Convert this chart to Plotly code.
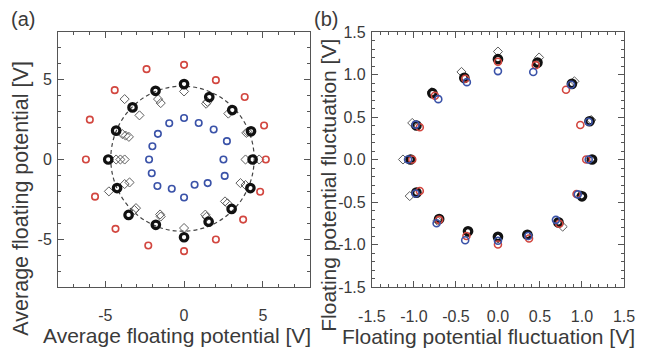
import plotly.graph_objects as go

# ---------------- Panel (a): average floating potential [V] ----------------
a_red_x = [0, 2.02, 3.85, 5.08, 5.19, 4.83, 3.75, 2.02, 0, -2.27, -4.35, -5.65, -6.23, -5.98, -4.40, -2.38]
a_red_y = [5.94, 4.98, 3.92, 2.13, 0, -2.02, -3.77, -5.02, -5.75, -5.40, -4.35, -2.33, 0, 2.50, 4.35, 5.67]

a_black_x = [0, 1.60, 3.06, 4.25, 4.35, 4.21, 3.02, 1.56, 0, -1.79, -3.52, -4.25, -4.81, -4.31, -3.27, -1.81]
a_black_y = [4.73, 3.92, 3.10, 1.77, 0, -1.79, -3.10, -3.90, -4.88, -4.10, -3.48, -1.79, 0, 1.81, 3.27, 4.31]

a_gray_x = [0, 1.40, 1.48, 2.81, 3.95, 4.05, 3.90, 4.77, 3.58, 3.90, 2.60, 2.75, 1.35, 1.42, 0,
            -1.48, -1.52, -3.15, -3.05, -3.77, -3.46, -4.77, -4.31, -4.04, -3.77, -3.92, -3.71, -3.50,
            -3.77, -2.83, -1.65, -1.48]
a_gray_y = [4.27, 3.50, 3.62, 2.88, 1.67, 1.72, 0, 0, -1.48, -1.60, -2.63, -2.75, -3.46, -3.60, -4.30,
            -3.58, -3.45, -3.17, -3.05, -1.54, -1.44, -2.00, 0, 0, 0, 1.60, 1.50, 1.42,
            3.79, 2.77, 3.79, 3.54]

a_blue_x = [0, 0.93, 1.88, 2.72, 2.50, 2.58, 1.50, 0.67, 0, -0.78, -1.69, -2.05, -2.22, -2.01, -1.66, -0.94]
a_blue_y = [2.60, 2.29, 1.88, 1.15, 0, -1.03, -1.48, -1.58, -2.38, -1.84, -1.66, -0.86, 0, 0.83, 1.61, 2.27]

# dashed reference circle (centre and radius)
circle_cx, circle_cy, circle_r = -0.1, 0.05, 4.55

a_ticks = [-5, 0, 5]
a_ticktext = ["-5", "0", "5"]

# ---------------- Panel (b): floating potential fluctuation [V] ----------------
b_blue_x = [0, -0.37, -0.71, -0.98, -1.07, -0.98, -0.73, -0.39, 0, 0.36, 0.69, 0.95, 1.08, 1.08, 0.87, 0.42]
b_blue_y = [1.04, 0.91, 0.71, 0.41, 0, -0.40, -0.75, -0.95, -0.955, -0.90, -0.71, -0.41, 0, 0.445, 0.88, 1.03]

b_red_x = [0, -0.39, -0.75, -0.93, -1.02, -0.93, -0.70, -0.375, 0, 0.37, 0.73, 0.935, 1.05, 0.98, 0.81, 0.45]
b_red_y = [1.15, 0.95, 0.75, 0.38, 0, -0.37, -0.71, -0.90, -1.00, -0.93, -0.755, -0.405, 0, 0.406, 0.82, 1.11]

b_black_x = [0, -0.40, -0.78, -0.97, -1.04, -0.97, -0.70, -0.356, 0, 0.35, 0.72, 1.00, 1.12, 1.09, 0.88, 0.47]
b_black_y = [1.18, 0.96, 0.78, 0.40, 0, -0.39, -0.70, -0.845, -0.91, -0.885, -0.74, -0.433, 0, 0.45, 0.89, 1.14]

b_gray_x = [0, -0.434, -0.79, -1.02, -1.13, -1.05, -0.72, -0.36, 0, 0.36, 0.77, 0.99, 1.10, 1.11, 0.91, 0.49]
b_gray_y = [1.27, 1.03, 0.79, 0.43, 0, -0.43, -0.72, -0.86, -0.93, -0.89, -0.79, -0.42, 0, 0.465, 0.92, 1.20]

b_ticks = [-1.5, -1.0, -0.5, 0.0, 0.5, 1.0, 1.5]
b_ticktext = ["-1.5", "-1.0", "-0.5", "0.0", "0.5", "1.0", "1.5"]

RED = "#d2463f"
BLUE = "#3a52a8"
BLACK = "#111111"
GRAY = "#5e5e5e"
TEXT = "#3a3a3a"
AXIS = "#555555"
FONT = "Liberation Sans, Arial, sans-serif"

fig = go.Figure()


def add_series(x, y, symbol, color, size, lw, xa, ya):
    fig.add_trace(go.Scatter(
        x=x, y=y, mode="markers", xaxis=xa, yaxis=ya, showlegend=False,
        marker=dict(symbol=symbol, size=size, color=color, line=dict(color=color, width=lw)),
    ))


# panel a
add_series(a_gray_x, a_gray_y, "diamond-open", GRAY, 7, 1, "x", "y")
add_series(a_black_x, a_black_y, "circle-open", BLACK, 7.5, 3.2, "x", "y")
add_series(a_red_x, a_red_y, "circle-open", RED, 6.5, 1.6, "x", "y")
add_series(a_blue_x, a_blue_y, "circle-open", BLUE, 6.5, 1.6, "x", "y")

# panel b
add_series(b_gray_x, b_gray_y, "diamond-open", GRAY, 7, 1, "x2", "y2")
add_series(b_black_x, b_black_y, "circle-open", BLACK, 7.5, 3.2, "x2", "y2")
add_series(b_red_x, b_red_y, "circle-open", RED, 7, 1.6, "x2", "y2")
add_series(b_blue_x, b_blue_y, "circle-open", BLUE, 7, 1.6, "x2", "y2")

fig.add_shape(type="circle", xref="x", yref="y",
              x0=circle_cx - circle_r, x1=circle_cx + circle_r,
              y0=circle_cy - circle_r, y1=circle_cy + circle_r,
              line=dict(color="#444444", width=1.2, dash="4px,3px"), layer="below")


def axis_common(tickvals, ticktext, rng, minor_dt, domain=None, standoff=0):
    d = dict(
        range=rng, tickmode="array", tickvals=tickvals, ticktext=ticktext,
        ticks="inside", ticklen=6, tickwidth=1, tickcolor=AXIS,
        showline=True, linecolor=AXIS, linewidth=1, mirror="allticks",
        showgrid=False, zeroline=False,
        tickfont=dict(family=FONT, size=16, color=TEXT),
        minor=dict(tickmode="linear", tick0=0, dtick=minor_dt, ticks="inside",
                   ticklen=3, tickcolor=AXIS, showgrid=False),
        ticklabelstandoff=standoff,
    )
    if domain is not None:
        d["domain"] = domain
    return d


# page body has an 8px margin: figure is 639x350, so the plot boxes land at
# x 58-315 / 378-635 and y 32-287 in the 647x358 window
fig.update_layout(
    width=639, height=350,
    margin=dict(l=50, r=12, t=24, b=71),
    paper_bgcolor="white", plot_bgcolor="white",
    font=dict(family=FONT, color=TEXT),
    xaxis=axis_common(a_ticks, a_ticktext, [-8, 8], 1, [0, 0.4454], 14),
    yaxis=axis_common(a_ticks, a_ticktext, [-8, 8], 1, None, 2),
    xaxis2=dict(axis_common(b_ticks, b_ticktext, [-1.5, 1.5], 0.1, [0.5546, 1], 15), anchor="y2"),
    yaxis2=dict(axis_common(b_ticks, b_ticktext, [-1.5, 1.5], 0.1, None, 2), anchor="x2"),
)

annots = [
    dict(text="Average floating potential [V]", x=0.2097, y=-0.19, size=21, angle=0),
    dict(text="Average floating potential [V]", x=-0.066, y=0.349, size=21.5, angle=-90),
    dict(text="Floating potential fluctuation [V]", x=0.761, y=-0.195, size=21, angle=0),
    dict(text="Floating potential fluctuation [V]", x=0.4766, y=0.40, size=21, angle=-90),
    dict(text="(a)", x=-0.0624, y=1.051, size=20, angle=0),
    dict(text="(b)", x=0.473, y=1.05, size=20, angle=0),
]
for a in annots:
    fig.add_annotation(text=a["text"], x=a["x"], y=a["y"], xref="paper", yref="paper",
                       xanchor="center", yanchor="middle", showarrow=False, textangle=a["angle"],
                       font=dict(family=FONT, size=a["size"], color=TEXT))

fig.write_html("out.html")
